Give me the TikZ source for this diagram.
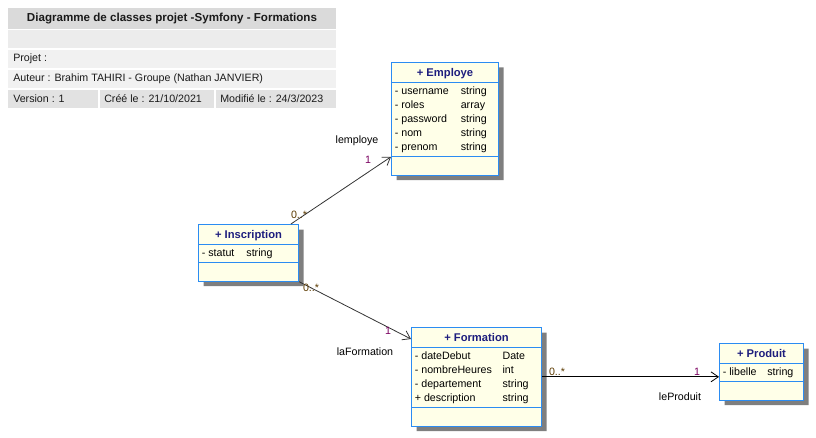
\documentclass[tikz,border=0pt]{standalone}
\usepackage{fontspec}
\setmainfont{Liberation Sans}
\usepackage{xcolor}
\usetikzlibrary{shapes.multipart, arrows.meta, calc, shadows}
\definecolor{umlblue}{HTML}{2B8CF2}
\definecolor{umlfill}{HTML}{FFFFE8}
\definecolor{umlnavy}{HTML}{1E1E7E}
\definecolor{umlshadow}{HTML}{7F7F7F}
\definecolor{umlpurple}{HTML}{7A0060}
\definecolor{umlbrown}{HTML}{5C3A00}
\definecolor{hdrtitle}{HTML}{DADADA}
\definecolor{hdrlight}{HTML}{ECECEC}
\definecolor{hdrpale}{HTML}{F1F1F1}
\definecolor{hdrmid}{HTML}{E2E2E2}
\definecolor{hdrtext}{HTML}{1A1A1A}
\newcommand{\umltitle}[1]{\rule[-2.75pt]{0pt}{11.75pt}{\fontsize{8.4}{10.5}\selectfont\textbf{\textcolor{umlnavy}{#1}}}}
\newcommand{\umlempty}{\rule{0pt}{10.5pt}}

\begin{document}
\begin{tikzpicture}[
    x=0.75pt, y=-0.75pt,
    font=\fontsize{8}{10.5}\selectfont,
    umlclass/.style={rectangle split, rectangle split parts=3,
      rectangle split part align={center,left,left},
      draw=umlblue, line width=0.75pt, fill=umlfill, anchor=north west,
      inner xsep=2.5pt, inner ysep=1.25pt,
      drop shadow={shadow xshift=3.75pt, shadow yshift=-3.75pt, fill=umlshadow, opacity=1}},
    assoc/.style={line width=0.6pt, draw=black!80, -{Straight Barb[length=5.5pt, width=7.5pt]}},
    mult/.style={inner sep=0pt, text=umlbrown},
    multone/.style={inner sep=0pt, text=umlpurple},
    role/.style={inner sep=0pt, text=black},
    hdr/.style={inner sep=0pt, anchor=west, text=hdrtext},
  ]
    \useasboundingbox (0,0) rectangle (816,438);

    \fill[hdrtitle] (8,8) rectangle (336,29);
    \fill[hdrlight] (8,30) rectangle (336,48);
    \fill[hdrpale] (8,50) rectangle (336,68);
    \fill[hdrpale] (8,70) rectangle (336,88);
    \fill[hdrmid] (8,90) rectangle (98,108);
    \fill[hdrmid] (100,90) rectangle (214,108);
    \fill[hdrmid] (216,90) rectangle (336,108);
    \node[inner sep=0pt, text=hdrtext, font=\fontsize{8.7}{10}\selectfont\bfseries] (titre) at (172,19) {Diagramme de classes projet -Symfony - Formations};
    \node[hdr] (projet) at (13,59) {Projet :};
    \node[hdr] (auteur) at (13,79) {Auteur : Brahim TAHIRI - Groupe (Nathan JANVIER)};
    \node[hdr] (version) at (13,99) {Version : 1};
    \node[hdr] (cree) at (104,99) {Créé le : 21/10/2021};
    \node[hdr] (modifie) at (220,99) {Modifié le : 24/3/2023};

    \node[umlclass, minimum width=80.25pt] (employe) at (391,62) {\umltitle{+ Employe}
      \nodepart{second}\begin{tabular}{@{}l@{\hspace{9pt}}l@{}}
        - username & string\\ - roles & array\\ - password & string\\ - nom & string\\ - prenom & string
      \end{tabular}
      \nodepart{third}\umlempty};
    \node[umlclass, minimum width=75pt] (inscription) at (198,224) {\umltitle{+ Inscription}
      \nodepart{second}\begin{tabular}{@{}l@{\hspace{9pt}}l@{}}
        - statut & string
      \end{tabular}
      \nodepart{third}\umlempty};
    \node[umlclass, minimum width=97.5pt] (formation) at (411,327) {\umltitle{+ Formation}
      \nodepart{second}\begin{tabular}{@{}l@{\hspace{8pt}}l@{}}
        - dateDebut & Date\\ - nombreHeures & int\\ - departement & string\\ + description & string
      \end{tabular}
      \nodepart{third}\umlempty};
    \node[umlclass, minimum width=63pt] (produit) at (719,343) {\umltitle{+ Produit}
      \nodepart{second}\begin{tabular}{@{}l@{\hspace{8pt}}l@{}}
        - libelle & string
      \end{tabular}
      \nodepart{third}\umlempty};

    \draw[assoc] ($(inscription.north west)!0.92!(inscription.north east)$) -- (employe.two split west);
    \draw[assoc] (inscription.south east) -- ($(formation.north west)+(0,12)$);
    \draw[assoc, draw=black] (formation.east) -- (formation.east -| produit.west);

    \node[role] (lemploye) at (357,141) {lemploye};
    \node[multone] (m1) at (368,160) {1};
    \node[mult] (m2) at (299,215) {0..*};
    \node[mult] (m3) at (311,288) {0..*};
    \node[multone] (m4) at (388,331) {1};
    \node[role] (laformation) at (365,352) {laFormation};
    \node[mult] (m5) at (557,372) {0..*};
    \node[multone] (m6) at (697,372) {1};
    \node[role] (leproduit) at (680,397) {leProduit};
  \end{tikzpicture}
\end{document}
